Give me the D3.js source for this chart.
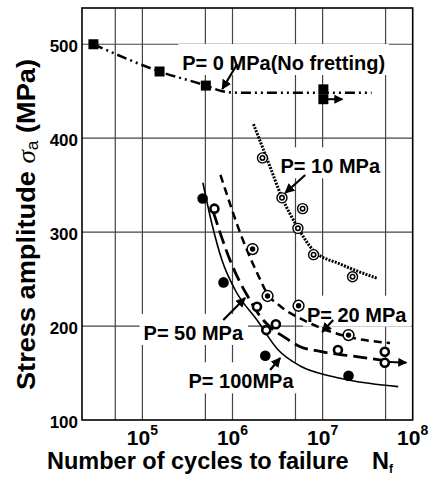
<!DOCTYPE html>
<html>
<head>
<meta charset="utf-8">
<script src="https://cdn.jsdelivr.net/npm/d3@7"></script>
<style>
  body { margin: 0; background: #fff; }
  text { font-family: "Liberation Sans", Arial, sans-serif; font-weight: bold; fill: #000; }
</style>
</head>
<body>
<div id="chart"></div>
<script>
// tick values
const yTicks = [100, 200, 300, 400, 500];
const yGrid = [200, 300, 400, 500];
const xTickExps = [5, 6, 7, 8];
const xGrid = [5e4, 1e5, 5e5, 1e6, 5e6, 1e7, 5e7];

// P = 0 MPa (no fretting), squares
const p0Points = [[2.86e4, 500], [1.55e5, 471], [5.06e5, 456], [1.02e7, 452], [1.02e7, 441.5]];
const p0Curve = [[2.86e4, 500], [1.55e5, 471], [5.06e5, 456], [7.7e5, 450], [1.1e6, 448.5], [1e7, 448.5], [3.5e7, 448.5]];
const p0Runout = [[1.02e7, 441.5], [1.66e7, 441.5]];

// P = 10 MPa, double circles
const p10Points = [[2.15e6, 379], [3.54e6, 336.5], [6.0e6, 325], [5.32e6, 304], [7.94e6, 276], [2.15e7, 252.5]];
const p10Curve = [[1.71e6, 415], [2.6e6, 370], [3.5e6, 338], [5.3e6, 305], [8e6, 280], [1.57e7, 266], [4e7, 251]];

// P = 20 MPa, circles with dot
const p20Points = [[1.67e6, 282], [2.45e6, 232], [5.41e6, 221.6], [1.94e7, 190.4]];
const p20Curve = [[7.35e5, 361], [1.3e6, 292], [1.95e6, 253], [2.45e6, 234], [3.4e6, 221], [6.1e6, 206.5], [1.84e7, 189], [5.6e7, 182]];

// P = 50 MPa, open rings
const p50Points = [[6.3e5, 325], [1.87e6, 220.5], [2.37e6, 195.7], [3.03e6, 202], [1.48e7, 174.5], [4.9e7, 172.7], [4.9e7, 161]];
const p50Curve = [[6.1e5, 322], [9.4e5, 270], [1.22e6, 246], [1.49e6, 231], [2.08e6, 209], [2.62e6, 199], [3.65e6, 189], [5.65e6, 178], [9.4e6, 173], [2.6e7, 167], [5e7, 163]];
const p50Runout = [[4.9e7, 162], [8.5e7, 161]];

// P = 100 MPa, filled circles
const p100Points = [[4.66e5, 335.8], [7.95e5, 246.5], [2.31e6, 168.4], [1.94e7, 147]];
const p100Curve = [[4.69e5, 352.6], [5.95e5, 307.6], [7.63e5, 270.3], [1.07e6, 238.4], [1.87e6, 206.5], [3.22e6, 174.5], [5.64e6, 157.5], [1.21e7, 146.8], [1.92e7, 142.6], [6.9e7, 135.5]];

// labels: text, anchor [N, S], arrow from/to
const labelTexts = ["P= 0 MPa(No fretting)", "P= 10 MPa", "P= 20 MPa", "P= 50 MPa", "P= 100MPa"];
const labelAt = [[2.77e5, 472.6], [3.41e6, 362.6], [6.7e6, 204.7], [1.03e5, 185.2], [3.25e5, 133.7]];
const labelArrows = [
  [[1.13e6, 479], [7.7e5, 452.4]],
  [[6.41e6, 360.8], [3.85e6, 341.7]],
  [[1.31e7, 206.5], [9.9e6, 193.7]],
  [[7.9e5, 206.5], [1.38e6, 229.9]],
  [[2.62e6, 153.2], [3.38e6, 166]]
];

const W = 431, H = 477;
const mLeft = 82, mRight = 412.7, mTop = 8, mBottom = 420;

const svg = d3.select("#chart").append("svg")
  .attr("width", W).attr("height", H);

svg.append("defs").append("marker")
  .attr("id", "head")
  .attr("viewBox", "0 0 10 10")
  .attr("refX", 9).attr("refY", 5)
  .attr("markerWidth", 4.5).attr("markerHeight", 4.5)
  .attr("markerUnits", "strokeWidth")
  .attr("orient", "auto")
  .append("path").attr("d", "M0,0L10,5L0,10z").attr("fill", "#000");

const x = d3.scaleLog().domain([21360, 1e8]).range([mLeft, mRight]);
const y = d3.scaleLinear().domain([100, 538.6]).range([mBottom, mTop]);

// grid
svg.append("g").selectAll("line").data(xGrid).join("line")
  .attr("x1", d => x(d)).attr("x2", d => x(d))
  .attr("y1", mTop).attr("y2", mBottom)
  .attr("stroke", "#444").attr("stroke-width", 1.2);
svg.append("g").selectAll("line").data(yGrid).join("line")
  .attr("x1", mLeft).attr("x2", mRight)
  .attr("y1", d => y(d)).attr("y2", d => y(d))
  .attr("stroke", "#444").attr("stroke-width", 1.2);

// label boxes (white, cover grid)
const labelG = svg.append("g");
const labels = labelG.selectAll("text").data(labelTexts).join("text")
  .attr("x", (d, i) => x(labelAt[i][0]))
  .attr("y", (d, i) => y(labelAt[i][1]))
  .attr("font-size", 20)
  .text(d => d);
labels.each(function() {
  const b = this.getBBox();
  labelG.insert("rect", "text")
    .attr("x", b.x - 4).attr("y", b.y - 8)
    .attr("width", b.width + 8).attr("height", b.height + 9)
    .attr("fill", "#fff");
});

// frame
svg.append("rect")
  .attr("x", mLeft).attr("y", mTop)
  .attr("width", mRight - mLeft).attr("height", mBottom - mTop)
  .attr("fill", "none").attr("stroke", "#000").attr("stroke-width", 1.6);

// curves
const line = d3.line().x(d => x(d[0])).y(d => y(d[1])).curve(d3.curveMonotoneX);
const curves = [
  {data: p0Curve, dash: "10,4,2,4,2,4", w: 2.5},
  {data: p10Curve, dash: "2,1.3", w: 3},
  {data: p20Curve, dash: "8,5", w: 2.5},
  {data: p50Curve, dash: "14,6", w: 2.8},
  {data: p100Curve, dash: null, w: 1.6}
];
svg.append("g").selectAll("path").data(curves).join("path")
  .attr("d", d => line(d.data))
  .attr("fill", "none").attr("stroke", "#000")
  .attr("stroke-width", d => d.w)
  .attr("stroke-dasharray", d => d.dash);

// run-out arrows
svg.append("g").selectAll("line").data([p0Runout, p50Runout]).join("line")
  .attr("x1", d => x(d[0][0])).attr("y1", d => y(d[0][1]))
  .attr("x2", d => x(d[1][0])).attr("y2", d => y(d[1][1]))
  .attr("stroke", "#000").attr("stroke-width", 2)
  .attr("marker-end", "url(#head)");

// markers
const mk = svg.append("g");
mk.selectAll(".sq").data(p0Points).join("rect")
  .attr("x", d => x(d[0]) - 5).attr("y", d => y(d[1]) - 5)
  .attr("width", 10).attr("height", 10).attr("fill", "#000");

mk.selectAll(".c10o").data(p10Points).join("circle")
  .attr("cx", d => x(d[0])).attr("cy", d => y(d[1])).attr("r", 5)
  .attr("fill", "#fff").attr("stroke", "#000").attr("stroke-width", 1.4);
mk.selectAll(".c10i").data(p10Points).join("circle")
  .attr("cx", d => x(d[0])).attr("cy", d => y(d[1])).attr("r", 2.2)
  .attr("fill", "#fff").attr("stroke", "#000").attr("stroke-width", 1.6);

mk.selectAll(".c20o").data(p20Points).join("circle")
  .attr("cx", d => x(d[0])).attr("cy", d => y(d[1])).attr("r", 5.4)
  .attr("fill", "#fff").attr("stroke", "#000").attr("stroke-width", 1.5);
mk.selectAll(".c20i").data(p20Points).join("circle")
  .attr("cx", d => x(d[0])).attr("cy", d => y(d[1])).attr("r", 2.7)
  .attr("fill", "#000");

mk.selectAll(".c50").data(p50Points).join("circle")
  .attr("cx", d => x(d[0])).attr("cy", d => y(d[1])).attr("r", 4)
  .attr("fill", "#fff").attr("stroke", "#000").attr("stroke-width", 2.6);

mk.selectAll(".c100").data(p100Points).join("circle")
  .attr("cx", d => x(d[0])).attr("cy", d => y(d[1])).attr("r", 5.3)
  .attr("fill", "#000");

// label arrows
svg.append("g").selectAll("line").data(labelArrows).join("line")
  .attr("x1", d => x(d[0][0])).attr("y1", d => y(d[0][1]))
  .attr("x2", d => x(d[1][0])).attr("y2", d => y(d[1][1]))
  .attr("stroke", "#000").attr("stroke-width", 2.2)
  .attr("marker-end", "url(#head)");

// y tick labels
svg.append("g").selectAll("text").data(yTicks).join("text")
  .attr("x", 78).attr("y", d => y(d) + 7.5)
  .attr("text-anchor", "end").attr("font-size", 17)
  .text(d => d);

// x tick labels
const xt = svg.append("g").selectAll("text").data(xTickExps).join("text")
  .attr("x", d => x(Math.pow(10, d))).attr("y", 445)
  .attr("text-anchor", "middle").attr("font-size", 21);
xt.append("tspan").text("10");
xt.append("tspan").attr("font-size", 14).attr("dy", -10).text(d => d);

// x axis title
const xl = svg.append("text").attr("x", 47).attr("y", 469).attr("font-size", 23.5);
xl.append("tspan").text("Number of cycles to failure");
xl.append("tspan").attr("x", 372).text("N");
xl.append("tspan").attr("font-size", 12).attr("dy", 4).text("f");

// y axis title
const yl = svg.append("text")
  .attr("transform", "translate(35,390) rotate(-90)")
  .attr("text-anchor", "start").attr("font-size", 25)
  .attr("textLength", 331).attr("lengthAdjust", "spacingAndGlyphs");
yl.append("tspan").text("Stress amplitude  ");
yl.append("tspan").attr("font-family", "Liberation Serif").attr("font-style", "italic")
  .attr("font-weight", "normal").text("σ");
yl.append("tspan").attr("font-size", 16).attr("font-weight", "normal").attr("dy", 3).text("a");
yl.append("tspan").attr("dy", -3).text("  (MPa)");
</script>
</body>
</html>
